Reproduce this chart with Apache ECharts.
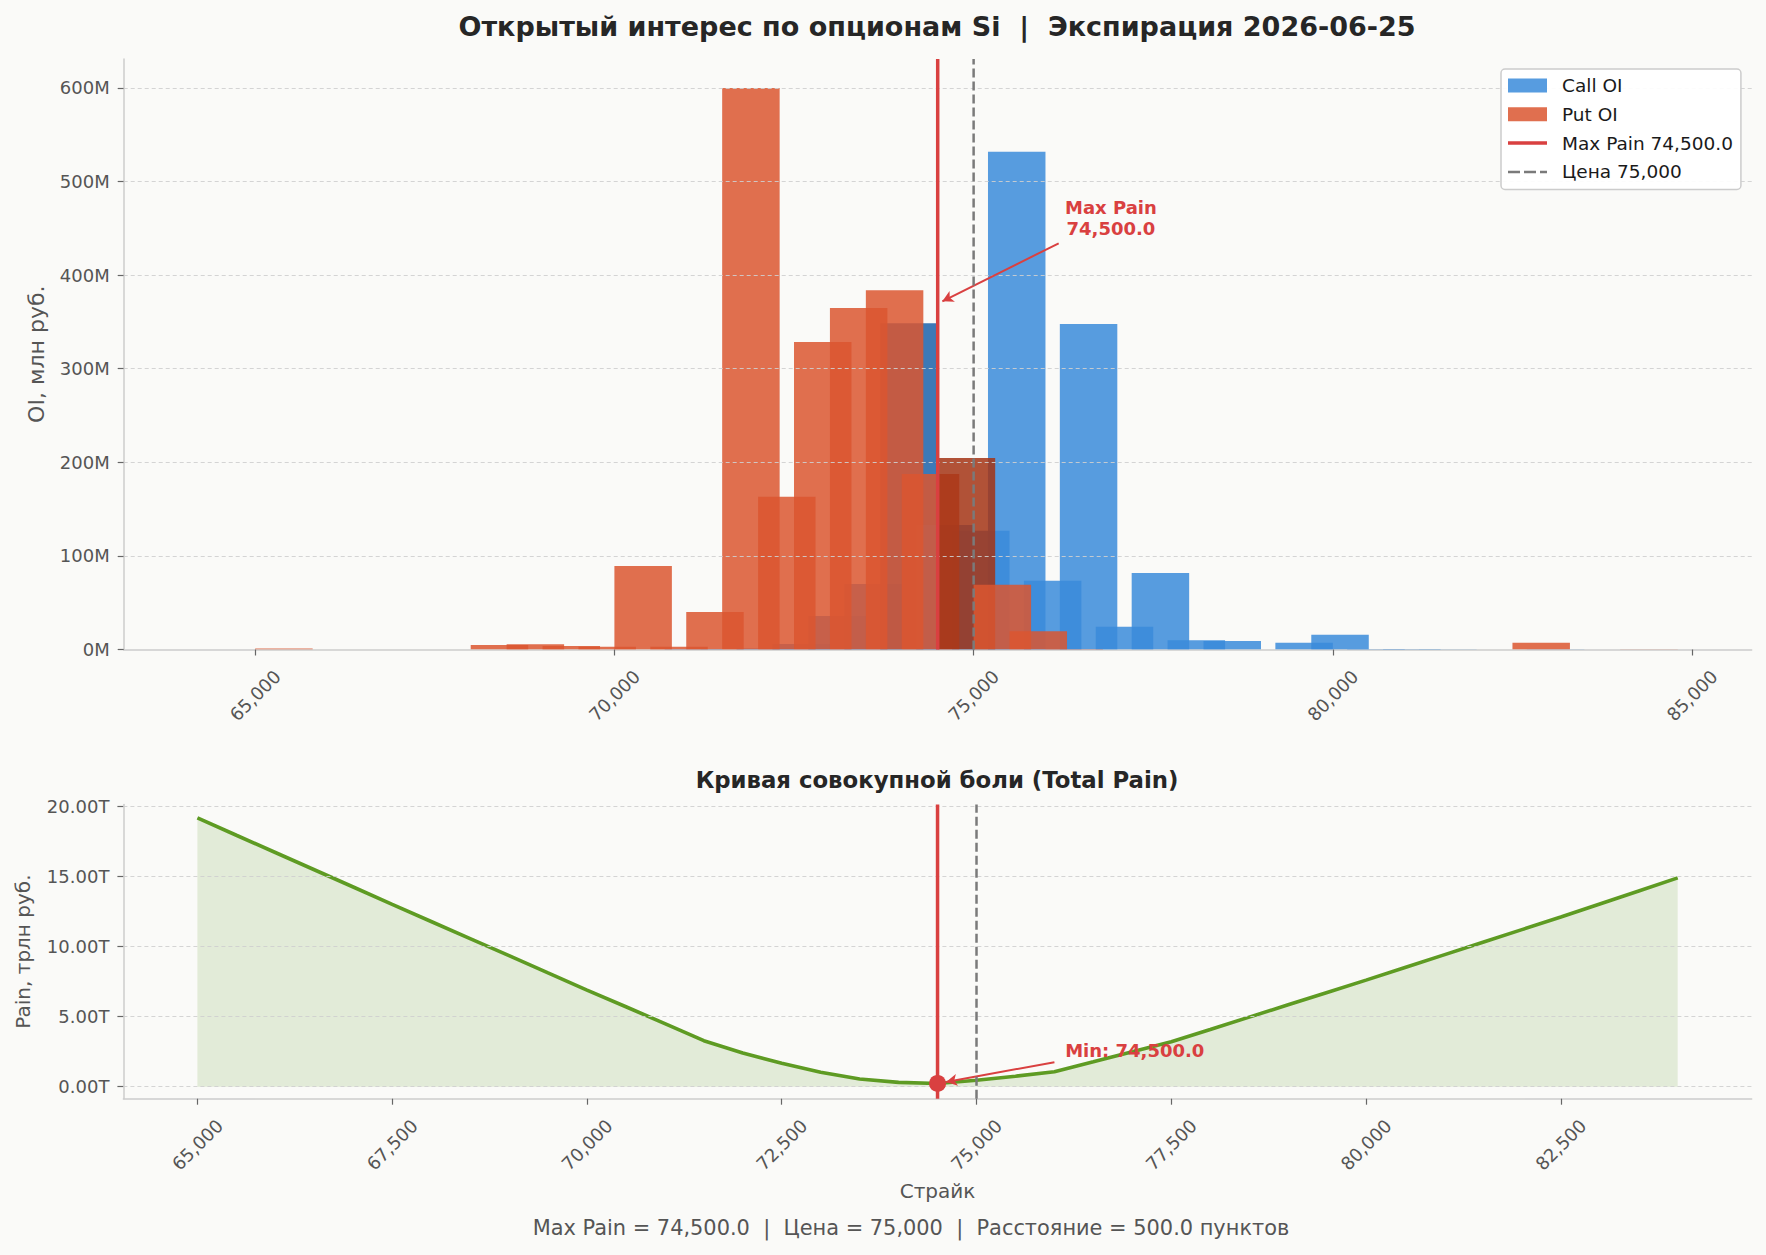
<!DOCTYPE html>
<html>
<head>
<meta charset="utf-8">
<script src="https://cdn.jsdelivr.net/npm/echarts@6/dist/echarts.min.js"></script>
<style>
html, body { margin: 0; padding: 0; background: #FAFAF8; }
#chart { width: 1766px; height: 1255px; }
</style>
</head>
<body>
<div id="chart"></div>
<script>
// ---------------- DATA ----------------
const strikes = [65000, 65500, 66000, 66500, 67000, 67500, 68000, 68500, 69000, 69500,
                 70000, 70500, 71000, 71500, 72000, 72500, 73000, 73500, 74000, 74500,
                 75000, 75500, 76000, 76500, 77000, 77500, 78000, 78500, 79000, 79500,
                 80000, 80500, 81000, 81500, 82000, 82500, 83000, 83500, 84000];
// Open interest, млн руб.
const callOI = [0, 0, 0, 0, 0, 0, 0, 0, 0, 0,
                0, 0, 0, 0.5, 0.3, 1.0, 6.0, 35.8, 70.1, 348.6,
                133.0, 126.9, 531.8, 73.4, 347.7, 24.3, 81.6, 10.0, 9.1, 0,
                7.2, 15.7, 0.5, 0.5, 0.4, 0, 0, 0.3, 0];
const putOI  = [1.0, 0, 0, 0, 0, 0, 4.8, 5.7, 3.8, 2.9,
                89.2, 2.9, 40.1, 600.0, 163.1, 328.6, 364.9, 383.9, 187.4, 204.6,
                69.2, 19.6, 0.5, 0, 0, 0, 0, 0, 0, 0,
                0, 0, 0, 0, 0, 7.2, 0, 0, 0.3];
// Total pain, трлн руб.
const painValues = [19.17, 17.93, 16.70, 15.47, 14.24, 13.00, 11.78, 10.56, 9.34, 8.11,
                    6.89, 5.70, 4.50, 3.28, 2.40, 1.67, 1.03, 0.55, 0.31, 0.23,
                    0.46, 0.75, 1.07, 1.78, 2.50, 3.21, 4.08, 4.96, 5.84, 6.72,
                    7.60, 8.50, 9.40, 10.30, 11.20, 12.10, 13.03, 13.96, 14.89];
const maxPain = 74500;
const price = 75000;
const distancePts = 500.0;
const expiration = '2026-06-25';

const oiTicks = [0, 100, 200, 300, 400, 500, 600];
const topStrikeTicks = [65000, 70000, 75000, 80000, 85000];
const bottomStrikeTicks = [65000, 67500, 70000, 72500, 75000, 77500, 80000, 82500];
const painTicks = [0, 5, 10, 15, 20];

// annotation anchors (data coordinates)
const topNote = { text: [76911, 461], from: [76184, 434], to: [74565, 372] };
const bottomNote = { text: [77031, 2.61], from: [76000, 1.75], to: [74610, 0.34] };

// ---------------- STYLE / LAYOUT ----------------
const FONT = '"DejaVu Sans", sans-serif';
const BG = '#FAFAF8';
const CALL = 'rgba(58,139,219,0.85)';
const CALL_HL = 'rgba(26,97,172,0.85)';
const PUT = 'rgba(219,86,48,0.85)';
const PUT_HL = 'rgba(163,52,21,0.85)';
const RED = '#D94040';
const GRAY = '#7a7a7a';
const GREEN = '#5E9B23';
const TXT = '#555555';
const BAR_W = 800;
const CALL_SHIFT = -400;
const PUT_SHIFT = 400;

const TOP_X = [63170, 85830];
const TOP_Y = [0, 631];
const BOT_X = [64050, 84950];
const BOT_Y = [-0.855, 20.13];

const ICON_SOLID = 'path://M0 0h0.01v0.01H0z M0 5.25h39v3.5H0z M38.99 13.99h0.01V14h-0.01z';
const ICON_DASH = 'path://M0 0h0.01v0.01H0z M0 5.75h12v2.5H0z M16 5.75h12v2.5H16z M32 5.75h7v2.5H32z M38.99 13.99h0.01V14h-0.01z';

const fmtThousands = v => Math.round(v).toLocaleString('en-US');

function makeBarRenderer(shift, color, hlColor) {
  return function (params, api) {
    const k = api.value(0), v = api.value(1);
    if (!(v > 0)) return null;
    const c = k + shift;
    const lt = api.coord([c - BAR_W / 2, v]);
    const rb = api.coord([c + BAR_W / 2, 0]);
    const cs = params.coordSys;
    const shape = echarts.graphic.clipRectByRect(
      { x: lt[0], y: lt[1], width: rb[0] - lt[0], height: rb[1] - lt[1] },
      { x: cs.x, y: cs.y, width: cs.width, height: cs.height });
    if (!shape) return null;
    return { type: 'rect', shape: shape, style: { fill: k === maxPain ? hlColor : color } };
  };
}

const axisLabelRot = (vals, fmt) => ({
  customValues: vals, formatter: fmt, rotate: 45, align: 'center', verticalAlign: 'middle',
  margin: 46, color: TXT, fontSize: 18, fontFamily: FONT
});
const axisLine = { show: true, onZero: false, lineStyle: { color: '#cccccc', width: 1.5 } };
const tick = vals => ({ show: true, customValues: vals, length: 6, lineStyle: { color: '#666', width: 1.2 } });
const gridLines = (vals, xi, yi, name) => ({
  name: name, type: 'line', xAxisIndex: xi, yAxisIndex: yi, data: [], z: 8, silent: true,
  markLine: {
    silent: true, symbol: 'none', animation: false, label: { show: false },
    lineStyle: { color: '#cfcfcf', width: 0.9, type: [4, 3] },
    data: vals.map(v => ({ yAxis: v }))
  }
});
const vline = (name, x, yr, color, width, type, xi, yi, z) => ({
  name: name, type: 'line', xAxisIndex: xi, yAxisIndex: yi, symbol: 'none', z: z, silent: true,
  data: [[x, yr[0]], [x, yr[1]]],
  lineStyle: { color: color, width: width, type: type }, itemStyle: { color: color }
});
const note = (name, xi, yi, nt, label) => ({
  name: name, type: 'scatter', xAxisIndex: xi, yAxisIndex: yi, symbolSize: 0, z: 20, silent: true,
  itemStyle: { opacity: 1, color: RED },
  data: [nt.text],
  label: { show: true, position: 'inside', formatter: label, color: RED, fontWeight: 'bold',
           fontSize: 18, fontFamily: FONT, lineHeight: 21, align: 'center', verticalAlign: 'middle' },
  markLine: {
    silent: true, animation: false, symbol: ['none', 'arrow'], symbolSize: [9, 11],
    label: { show: false }, lineStyle: { color: RED, width: 2, type: 'solid', opacity: 1 },
    data: [[{ coord: nt.from }, { coord: nt.to }]]
  }
});

const chart = echarts.init(document.getElementById('chart'), null, { renderer: 'svg' });

const option = {
  backgroundColor: BG,
  animation: false,
  textStyle: { fontFamily: FONT },
  grid: [
    { left: 123.7, top: 58.9, width: 1628, height: 590.6 },
    { left: 123.4, top: 804.4, width: 1628.3, height: 294.3 }
  ],
  xAxis: [
    { type: 'value', gridIndex: 0, min: TOP_X[0], max: TOP_X[1],
      axisLine: axisLine, axisTick: tick(topStrikeTicks), splitLine: { show: false },
      axisLabel: axisLabelRot(topStrikeTicks, fmtThousands) },
    { type: 'value', gridIndex: 1, min: BOT_X[0], max: BOT_X[1],
      axisLine: axisLine, axisTick: tick(bottomStrikeTicks), splitLine: { show: false },
      axisLabel: axisLabelRot(bottomStrikeTicks, fmtThousands),
      name: 'Страйк', nameLocation: 'middle', nameGap: 82,
      nameTextStyle: { color: TXT, fontSize: 20, fontFamily: FONT } }
  ],
  yAxis: [
    { type: 'value', gridIndex: 0, min: TOP_Y[0], max: TOP_Y[1],
      axisLine: axisLine, axisTick: tick(oiTicks), splitLine: { show: false },
      axisLabel: { customValues: oiTicks, formatter: v => v + 'M', color: TXT, fontSize: 18, fontFamily: FONT, margin: 14 },
      name: 'OI, млн руб.', nameLocation: 'middle', nameGap: 76,
      nameTextStyle: { color: TXT, fontSize: 22, fontFamily: FONT } },
    { type: 'value', gridIndex: 1, min: BOT_Y[0], max: BOT_Y[1],
      axisLine: axisLine, axisTick: tick(painTicks), splitLine: { show: false },
      axisLabel: { customValues: painTicks, formatter: v => v.toFixed(2) + 'T', color: TXT, fontSize: 18, fontFamily: FONT, margin: 14 },
      name: 'Pain, трлн руб.', nameLocation: 'middle', nameGap: 90,
      nameTextStyle: { color: TXT, fontSize: 20, fontFamily: FONT } }
  ],
  legend: {
    orient: 'vertical', left: 1501, top: 69, z: 40, zlevel: 0,
    itemWidth: 39, itemHeight: 14, itemGap: 9.8,
    padding: [7, 8, 8, 7],
    backgroundColor: 'rgba(255,255,255,0.92)', borderColor: '#cccccc', borderWidth: 1.5, borderRadius: 4,
    textStyle: { color: '#1a1a1a', fontSize: 18.5, fontFamily: FONT, padding: [0, 0, 0, 10] },
    selectedMode: false,
    data: [
      { name: 'Call OI', icon: 'rect' },
      { name: 'Put OI', icon: 'rect' },
      { name: 'Max Pain 74,500.0', icon: ICON_SOLID },
      { name: 'Цена 75,000', icon: ICON_DASH }
    ]
  },
  graphic: [
    { type: 'text', x: 937, y: 26, silent: true,
      style: { text: 'Открытый интерес по опционам Si  |  Экспирация ' + expiration,
               fill: '#262626', fontSize: 27, fontWeight: 'bold', fontFamily: FONT,
               align: 'center', verticalAlign: 'middle' } },
    { type: 'text', x: 937, y: 780, silent: true,
      style: { text: 'Кривая совокупной боли (Total Pain)',
               fill: '#262626', fontSize: 22.8, fontWeight: 'bold', fontFamily: FONT,
               align: 'center', verticalAlign: 'middle' } },
    { type: 'text', x: 911, y: 1228, silent: true,
      style: { text: 'Max Pain = ' + maxPain.toLocaleString('en-US', { minimumFractionDigits: 1 }) +
                     '  |  Цена = ' + fmtThousands(price) +
                     '  |  Расстояние = ' + distancePts.toFixed(1) + ' пунктов',
               fill: TXT, fontSize: 20.9, fontFamily: FONT,
               align: 'center', verticalAlign: 'middle' } }
  ],
  series: [
    { name: 'Call OI', type: 'custom', xAxisIndex: 0, yAxisIndex: 0, z: 2, clip: true,
      itemStyle: { color: CALL },
      renderItem: makeBarRenderer(CALL_SHIFT, CALL, CALL_HL),
      data: strikes.map((s, i) => [s, callOI[i]]) },
    { name: 'Put OI', type: 'custom', xAxisIndex: 0, yAxisIndex: 0, z: 3, clip: true,
      itemStyle: { color: PUT },
      renderItem: makeBarRenderer(PUT_SHIFT, PUT, PUT_HL),
      data: strikes.map((s, i) => [s, putOI[i]]) },
    gridLines(oiTicks.slice(1), 0, 0, '_grid_top'),
    vline('Цена 75,000', price, TOP_Y, GRAY, 2.5, [9, 4], 0, 0, 10),
    vline('Max Pain 74,500.0', maxPain, TOP_Y, RED, 3.5, 'solid', 0, 0, 11),
    note('_note_top', 0, 0, topNote, 'Max Pain\n74,500.0'),

    { name: '_pain', type: 'line', xAxisIndex: 1, yAxisIndex: 1, symbol: 'none', z: 3, silent: true,
      data: strikes.map((s, i) => [s, painValues[i]]),
      lineStyle: { color: GREEN, width: 3.6 },
      areaStyle: { color: GREEN, opacity: 0.15, origin: 0 } },
    gridLines(painTicks, 1, 1, '_grid_bot'),
    vline('_price_bot', price, BOT_Y, GRAY, 2.5, [9, 4], 1, 1, 10),
    vline('_mp_bot', maxPain, BOT_Y, RED, 3.5, 'solid', 1, 1, 11),
    { name: '_min', type: 'scatter', xAxisIndex: 1, yAxisIndex: 1, symbolSize: 17, z: 15, silent: true,
      itemStyle: { color: RED, opacity: 1 },
      data: [[maxPain, painValues[strikes.indexOf(maxPain)]]] },
    note('_note_bot', 1, 1, bottomNote, 'Min: 74,500.0')
  ]
};
chart.setOption(option);
</script>
</body>
</html>
